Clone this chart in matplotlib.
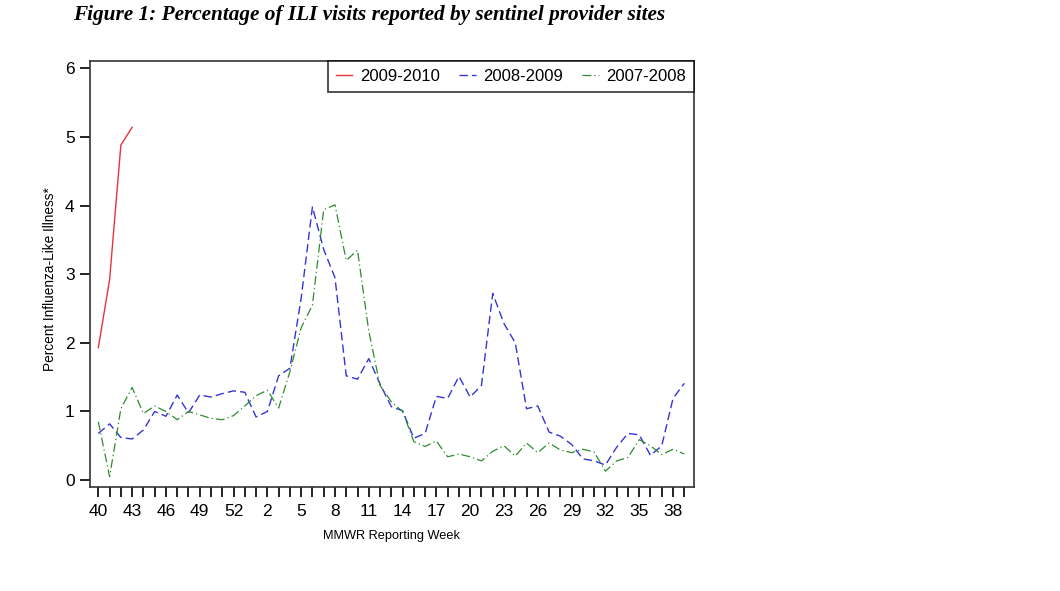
import numpy as np
import matplotlib
matplotlib.use("Agg")
import matplotlib.pyplot as plt

# MMWR weeks, season starting at week 40 (2008 had a week 53)
weeks = list(range(40, 54)) + list(range(1, 40))

ili_2009_2010 = [1.93, 2.92, 4.88, 5.14]

ili_2008_2009 = [0.68, 0.82, 0.62, 0.60, 0.73, 1.00, 0.93, 1.24, 0.98, 1.24,
                 1.21, 1.26, 1.30, 1.28, 0.92, 1.00, 1.52, 1.63, 2.65, 3.98,
                 3.36, 2.95, 1.52, 1.47, 1.77, 1.40, 1.07, 1.01, 0.61, 0.68,
                 1.22, 1.19, 1.51, 1.21, 1.38, 2.72, 2.28, 2.00, 1.04, 1.08,
                 0.70, 0.64, 0.52, 0.31, 0.28, 0.22, 0.48, 0.68, 0.66, 0.36,
                 0.50, 1.19, 1.41]

ili_2007_2008 = [0.85, 0.05, 1.04, 1.35, 0.97, 1.08, 1.00, 0.88, 1.00, 0.95,
                 0.90, 0.88, 0.94, 1.08, 1.23, 1.31, 1.05, 1.58, 2.22, 2.55,
                 3.94, 4.01, 3.20, 3.35, 2.17, 1.38, 1.14, 1.00, 0.56, 0.49,
                 0.57, 0.34, 0.38, 0.34, 0.28, 0.42, 0.50, 0.35, 0.54, 0.40,
                 0.54, 0.44, 0.40, 0.45, 0.41, 0.13, 0.28, 0.33, 0.59, 0.50,
                 0.37, 0.45, 0.38]

seasons = ["2009-2010", "2008-2009", "2007-2008"]
colors = ["#e8323c", "#3434d8", "#2e8b2e"]

plt.rcParams["font.family"] = ["Liberation Sans", "DejaVu Sans"]

fig = plt.figure(figsize=(10.6, 5.91), dpi=100)
ax = fig.add_axes([0.0849, 0.176, 0.5698, 0.7213])

x = np.arange(len(weeks))

ax.plot(x[:len(ili_2009_2010)], ili_2009_2010, color=colors[0], lw=1.0,
        linestyle="-", label=seasons[0])
ax.plot(x, ili_2008_2009, color=colors[1], lw=1.0,
        linestyle=(0, (6, 3)), label=seasons[1])
ax.plot(x, ili_2007_2008, color=colors[2], lw=0.9,
        linestyle=(0, (7, 2.5, 1, 2.5)), label=seasons[2])

ax.set_xlim(-0.74, 52.86)
ax.set_ylim(-0.1, 6.11)

ax.set_xticks(x, minor=True)
ax.set_xticks(x[::3])
ax.set_xticklabels([str(w) for w in weeks[::3]])
ax.set_yticks(range(0, 7))

ax.tick_params(axis="both", which="both", direction="out", length=7,
               width=1.3, color="#111111", labelsize=12.5)
ax.tick_params(axis="x", pad=5)
ax.tick_params(axis="y", pad=4)
for sp in ax.spines.values():
    sp.set_linewidth(1.2)
    sp.set_color("#333333")

ax.set_xlabel("MMWR Reporting Week", fontsize=9.2, labelpad=8.5)
ax.set_ylabel("Percent Influenza-Like Illness*", fontsize=9.8)
ax.yaxis.set_label_coords(-0.055, 0.488)

leg = ax.legend(loc="upper right", ncol=3, fontsize=12, frameon=True,
                fancybox=False, edgecolor="black", borderaxespad=0,
                handlelength=1.0, handletextpad=0.45, columnspacing=1.15,
                borderpad=0.48)
leg.get_frame().set_linewidth(1.2)

fig.text(0.069, 1 - 15 / 591, "Figure 1: Percentage of ILI visits reported by sentinel provider sites",
         family=["Liberation Serif", "DejaVu Serif"], fontsize=15.3,
         fontweight="bold", fontstyle="italic", ha="left", va="center")

fig.savefig("out.png", dpi=100)
